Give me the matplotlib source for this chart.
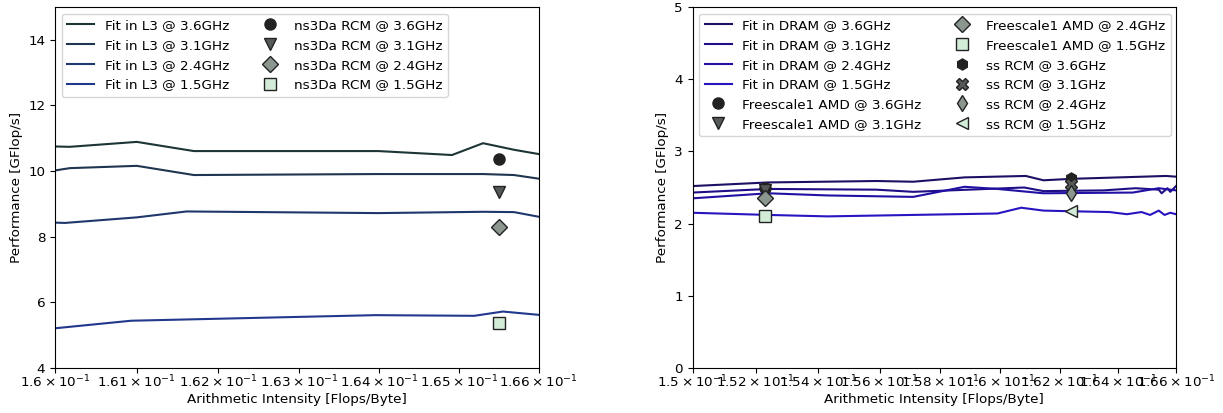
import matplotlib
matplotlib.use("Agg")
import matplotlib.pyplot as plt
from matplotlib.ticker import NullLocator

plt.rcParams["font.size"] = 9.7

# ---- left panel: fits in L3 + ns3Da RCM points ----
freqs = ["3.6GHz", "3.1GHz", "2.4GHz", "1.5GHz"]

l3_x = [
    [0.16000, 0.16018, 0.16100, 0.16170, 0.16399, 0.16491, 0.16530, 0.16569, 0.16600],
    [0.16000, 0.16018, 0.16100, 0.16170, 0.16399, 0.16530, 0.16569, 0.16600],
    [0.16000, 0.16012, 0.16100, 0.16161, 0.16399, 0.16530, 0.16569, 0.16600],
    [0.16000, 0.16093, 0.16395, 0.16519, 0.16555, 0.16600],
]
l3_y = [
    [10.75, 10.74, 10.89, 10.61, 10.61, 10.49, 10.85, 10.65, 10.52],
    [10.02, 10.09, 10.16, 9.88, 9.91, 9.91, 9.88, 9.77],
    [8.43, 8.42, 8.59, 8.77, 8.72, 8.76, 8.75, 8.61],
    [5.21, 5.44, 5.61, 5.59, 5.72, 5.62],
]
ns3da_x = 0.16550
ns3da_y = [10.36, 9.36, 8.31, 5.38]

# ---- right panel: fits in DRAM + Freescale1 / ss points ----
dram_x = [
    [0.15000, 0.15240, 0.15590, 0.15710, 0.15880, 0.16085, 0.16145, 0.16240, 0.16485, 0.16565, 0.16600],
    [0.15000, 0.15240, 0.15590, 0.15710, 0.16080, 0.16145, 0.16350, 0.16460, 0.16540, 0.16550, 0.16570, 0.16580, 0.16600],
    [0.15000, 0.15240, 0.15430, 0.15710, 0.15880, 0.15990, 0.16145, 0.16450, 0.16540, 0.16600],
    [0.15000, 0.15240, 0.15430, 0.15990, 0.16070, 0.16145, 0.16250, 0.16370, 0.16430, 0.16480, 0.16510, 0.16540, 0.16560, 0.16580, 0.16600],
]
dram_y = [
    [2.52, 2.57, 2.59, 2.58, 2.64, 2.66, 2.60, 2.62, 2.65, 2.66, 2.65],
    [2.43, 2.48, 2.47, 2.44, 2.50, 2.45, 2.46, 2.49, 2.47, 2.42, 2.49, 2.44, 2.52],
    [2.35, 2.42, 2.39, 2.37, 2.51, 2.48, 2.42, 2.43, 2.49, 2.46],
    [2.15, 2.12, 2.10, 2.14, 2.22, 2.18, 2.17, 2.16, 2.13, 2.16, 2.12, 2.18, 2.12, 2.15, 2.13],
]
fs_x = 0.15229
fs_y = [2.50, 2.47, 2.36, 2.10]
ss_x = 0.16238
ss_y = [2.63, 2.55, 2.42, 2.17]

l3_colors = ["#1e3535", "#1f3550", "#1f376c", "#22388c"]
dram_colors = ["#1c1064", "#1f0f86", "#2210a4", "#2814c0"]
pt_colors = ["#222222", "#555a58", "#8a968e", "#d2ecd8"]
pt_markers = ["o", "v", "D", "s"]
ss_markers = ["h", "X", "d", "<"]

left_ticks = [0.160, 0.161, 0.162, 0.163, 0.164, 0.165, 0.166]
left_labels = ["1.6", "1.61", "1.62", "1.63", "1.64", "1.65", "1.66"]
right_ticks = [0.150, 0.152, 0.154, 0.156, 0.158, 0.160, 0.162, 0.164, 0.166]
right_labels = ["1.5", "1.52", "1.54", "1.56", "1.58", "1.6", "1.62", "1.64", "1.66"]


def sci(s):
    return r"$\mathdefault{%s\times10^{-1}}$" % s


fig, (ax1, ax2) = plt.subplots(1, 2, figsize=(12.23, 4.13), dpi=100)
fig.subplots_adjust(left=0.045, right=0.9616, bottom=0.109, top=0.983, wspace=0.3185)

for i, f in enumerate(freqs):
    ax1.plot(l3_x[i], l3_y[i], color=l3_colors[i], lw=1.5, label="Fit in L3 @ " + f)
for i, f in enumerate(freqs):
    ax1.plot([ns3da_x], [ns3da_y[i]], ls="none", marker=pt_markers[i], ms=8,
             mfc=pt_colors[i], mec="#222222", label="ns3Da RCM @ " + f)

ax1.set_xscale("log")
ax1.set_xlim(0.160, 0.166)
ax1.set_ylim(4, 15)
ax1.xaxis.set_minor_locator(NullLocator())
ax1.set_xticks(left_ticks)
ax1.set_xticklabels([sci(s) for s in left_labels])
ax1.tick_params(axis="x", pad=0.5)
ax1.set_xlabel("Arithmetic Intensity [Flops/Byte]", labelpad=2)
ax1.set_ylabel("Performance [GFlop/s]")
ax1.legend(loc="upper left", ncol=2)

for i, f in enumerate(freqs):
    ax2.plot(dram_x[i], dram_y[i], color=dram_colors[i], lw=1.5, label="Fit in DRAM @ " + f)
for i, f in enumerate(freqs):
    ax2.plot([fs_x], [fs_y[i]], ls="none", marker=pt_markers[i], ms=8,
             mfc=pt_colors[i], mec="#222222", label="Freescale1 AMD @ " + f)
for i, f in enumerate(freqs):
    ax2.plot([ss_x], [ss_y[i]], ls="none", marker=ss_markers[i], ms=8,
             mfc=pt_colors[i], mec="#222222", label="ss RCM @ " + f)

ax2.set_xscale("log")
ax2.set_xlim(0.150, 0.166)
ax2.set_ylim(0, 5)
ax2.xaxis.set_minor_locator(NullLocator())
ax2.set_xticks(right_ticks)
ax2.set_xticklabels([sci(s) for s in right_labels])
ax2.tick_params(axis="x", pad=0.5)
ax2.set_xlabel("Arithmetic Intensity [Flops/Byte]", labelpad=2)
ax2.set_ylabel("Performance [GFlop/s]")
ax2.legend(loc="upper left", ncol=2)

fig.savefig("out.png", dpi=100)
